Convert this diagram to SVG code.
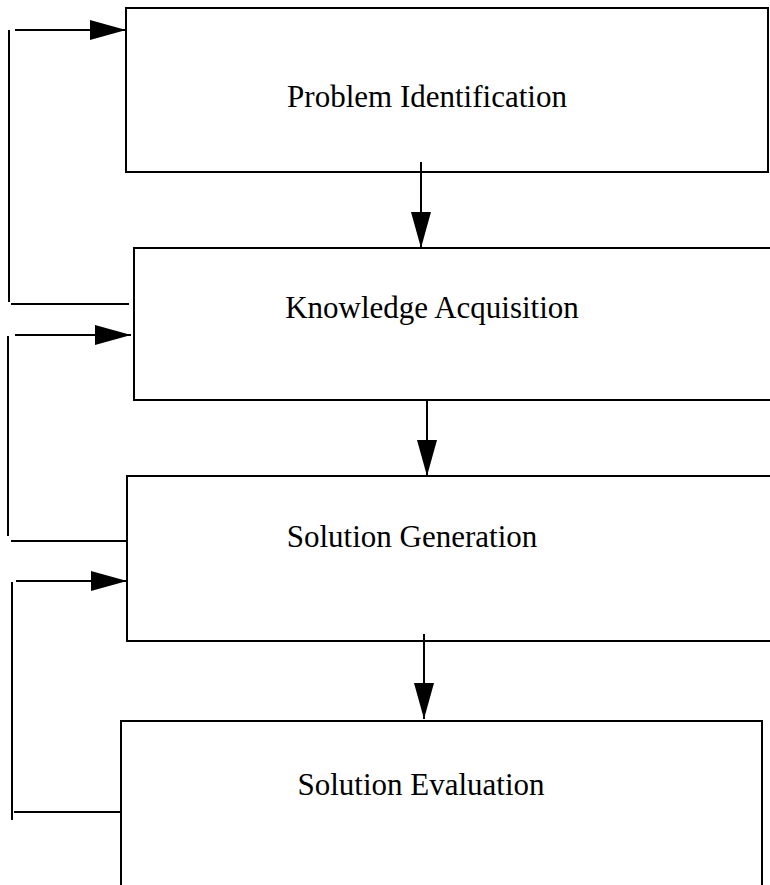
<svg xmlns="http://www.w3.org/2000/svg" width="770" height="885" viewBox="0 0 770 885">
  <style>
    .box { fill: none; stroke: #000; stroke-width: 2; }
    .line { fill: none; stroke: #000; stroke-width: 2; }
    .label { font-family: "Liberation Serif", "Times New Roman", serif; font-size: 31px; fill: #000; text-anchor: middle; }
  </style>
  <defs>
    <marker id="headR" markerUnits="userSpaceOnUse" markerWidth="36" markerHeight="22" refX="36" refY="11" orient="auto">
      <path d="M0,1 L36,11 L0,21 Z" fill="#000"/>
    </marker>
  </defs>
  <rect width="770" height="885" fill="#fff"/>

  <g id="problem-identification">
    <rect class="box" x="126" y="8" width="642" height="164"/>
    <text class="label" x="427" y="107">Problem Identification</text>
  </g>

  <g id="knowledge-acquisition">
    <path class="box" d="M772,248 H134 V400 H772"/>
    <text class="label" x="432" y="318">Knowledge Acquisition</text>
  </g>

  <g id="solution-generation">
    <path class="box" d="M772,476 H127 V641 H772"/>
    <text class="label" x="412" y="547">Solution Generation</text>
  </g>

  <g id="solution-evaluation">
    <path class="box" d="M121,887 V721 H762 V887"/>
    <text class="label" x="421" y="795">Solution Evaluation</text>
  </g>

  <g id="connectors">
    <!-- downward flow between stages -->
    <line class="line" x1="421" y1="162" x2="421" y2="248" marker-end="url(#headR)"/>
    <line class="line" x1="427" y1="400" x2="427" y2="476" marker-end="url(#headR)"/>
    <line class="line" x1="424" y1="634" x2="424" y2="719" marker-end="url(#headR)"/>

    <!-- feedback loops on the left -->
    <path class="line" d="M129,304 H11"/>
    <path class="line" d="M9,302 V30"/>
    <line class="line" x1="15" y1="30" x2="126" y2="30" marker-end="url(#headR)"/>

    <path class="line" d="M127,541 H11"/>
    <path class="line" d="M8,536 V336"/>
    <line class="line" x1="15" y1="335" x2="131" y2="335" marker-end="url(#headR)"/>

    <path class="line" d="M122,812 H14"/>
    <path class="line" d="M12,820 V582"/>
    <line class="line" x1="16" y1="581" x2="127" y2="581" marker-end="url(#headR)"/>
  </g>
</svg>
